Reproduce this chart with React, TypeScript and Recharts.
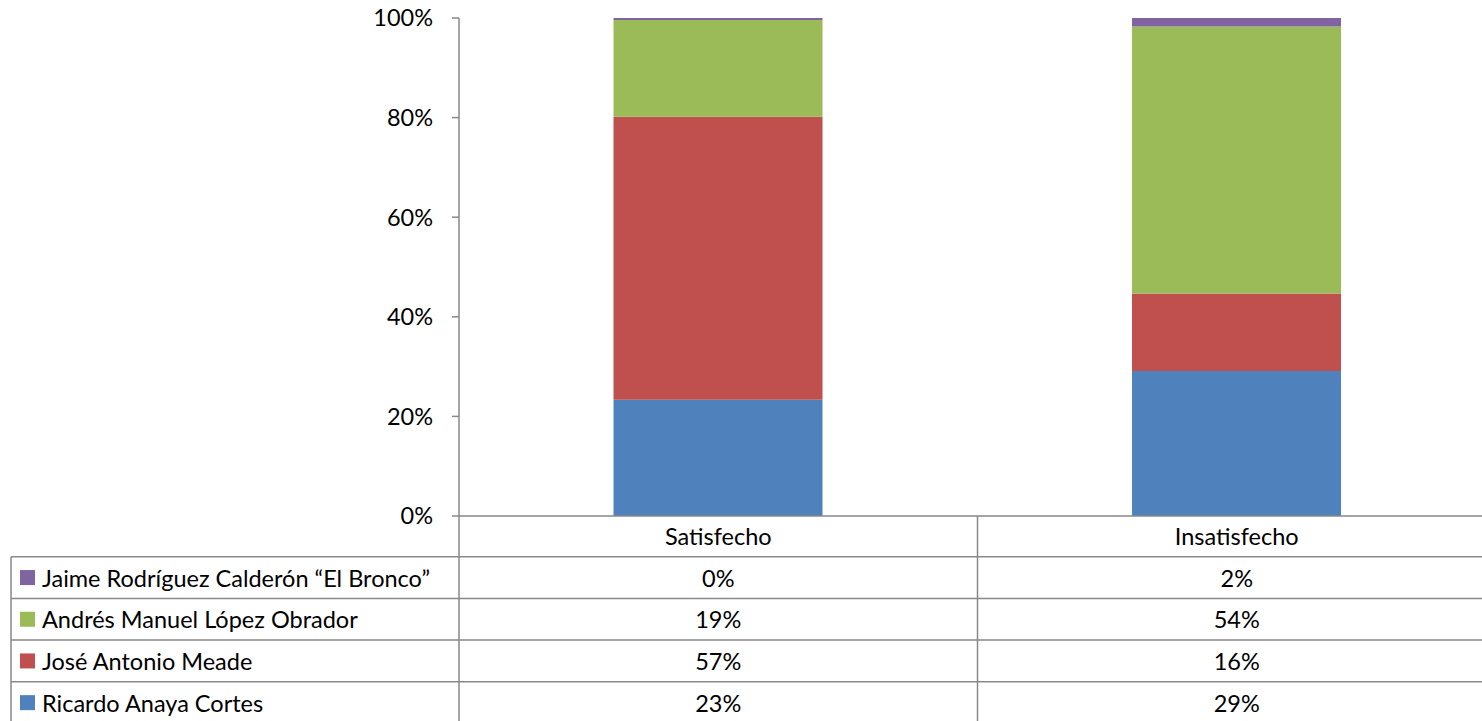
import React from "react";
import { BarChart, Bar, XAxis, YAxis } from "recharts";

const categories = ["Satisfecho", "Insatisfecho"];
const ricardoAnaya = [23.3, 29.1];
const joseMeade = [56.8, 15.6];
const lopezObrador = [19.4, 53.6];
const elBronco = [0.4, 1.7];
const yTicks = [0, 0.2, 0.4, 0.6, 0.8, 1];

const series = [
  { key: "ricardo", name: "Ricardo Anaya Cortes", values: ricardoAnaya, color: "#4F81BD" },
  { key: "meade", name: "José Antonio Meade", values: joseMeade, color: "#C0504D" },
  { key: "amlo", name: "Andrés Manuel López Obrador", values: lopezObrador, color: "#9BBB59" },
  { key: "bronco", name: "Jaime Rodríguez Calderón “El Bronco”", values: elBronco, color: "#8064A2" },
];

const data = categories.map((c, i) => {
  const row: any = { category: c };
  series.forEach((s) => (row[s.key] = s.values[i]));
  return row;
});

const tableRows = [...series].reverse();

const CHART_W = 1500;
const CHART_H = 760;
const MARGIN = { top: 18, right: 4, bottom: 37, left: 0 };
const Y_AXIS_W = 459;
const X_AXIS_H = 207;
const BAND = (CHART_W - MARGIN.left - MARGIN.right - Y_AXIS_W) / categories.length;
const HEADER_H = 40.7;
const ROW_H = 41.7;
const TABLE_LEFT = 11;
const LINE = "#898989";
const FONT = "Lato, 'Open Sans', sans-serif";
const FS = 23.5;

function TableTick(props: any) {
  const { x, y, payload, index } = props;
  const left = x - BAND / 2;
  const right = x + BAND / 2;
  const bottom = y + HEADER_H + tableRows.length * ROW_H;
  const catIdx = categories.indexOf(payload.value);
  return (
    <g>
      <text x={x} y={y + HEADER_H / 2} textAnchor="middle" dominantBaseline="central" fontFamily={FONT} fontSize={FS} fill="#000">
        {payload.value}
      </text>
      <line x1={right} x2={right} y1={y} y2={bottom} stroke={LINE} strokeWidth={1.5} />
      {tableRows.map((s, r) => (
        <g key={s.key}>
          <line x1={left} x2={right} y1={y + HEADER_H + r * ROW_H} y2={y + HEADER_H + r * ROW_H} stroke={LINE} strokeWidth={1.5} />
          <text x={x} y={y + HEADER_H + r * ROW_H + ROW_H / 2} textAnchor="middle" dominantBaseline="central" fontFamily={FONT} fontSize={FS} fill="#000">
            {Math.round(s.values[catIdx]) + "%"}
          </text>
        </g>
      ))}
      <line x1={left} x2={right} y1={bottom} y2={bottom} stroke={LINE} strokeWidth={1.5} />
      {index === 0 && (
        <g>
          <line x1={left} x2={left} y1={y} y2={bottom} stroke={LINE} strokeWidth={1.5} />
          <line x1={TABLE_LEFT} x2={TABLE_LEFT} y1={y + HEADER_H} y2={bottom} stroke={LINE} strokeWidth={1.5} />
          {tableRows.map((s, r) => {
            const top = y + HEADER_H + r * ROW_H;
            return (
              <g key={s.key}>
                <line x1={TABLE_LEFT} x2={left} y1={top} y2={top} stroke={LINE} strokeWidth={1.5} />
                <rect x={20} y={top + ROW_H / 2 - 7.5} width={15} height={15} fill={s.color} />
                <text x={42} y={top + ROW_H / 2} dominantBaseline="central" fontFamily={FONT} fontSize={FS} fill="#000">
                  {s.name}
                </text>
              </g>
            );
          })}
          <line x1={TABLE_LEFT} x2={left} y1={bottom} y2={bottom} stroke={LINE} strokeWidth={1.5} />
        </g>
      )}
    </g>
  );
}

export default function App() {
  return (
    <div style={{ position: "absolute", left: 0, top: 0, width: 1482, height: 721, overflow: "hidden", background: "#fff" }}>
      <BarChart
        width={CHART_W}
        height={CHART_H}
        data={data}
        margin={MARGIN}
        stackOffset="expand"
        barCategoryGap="29.8%"
      >
        <XAxis
          dataKey="category"
          height={X_AXIS_H}
          axisLine={{ stroke: LINE, strokeWidth: 1.5 }}
          tickLine={false}
          tickSize={0}
          tickMargin={0}
          interval={0}
          tick={<TableTick />}
        />
        <YAxis
          width={Y_AXIS_W}
          domain={[0, 1]}
          ticks={yTicks}
          tickFormatter={(v: number) => Math.round(v * 100) + "%"}
          tick={{ fill: "#000", fontSize: FS, fontFamily: FONT }}
          axisLine={{ stroke: LINE, strokeWidth: 1.5 }}
          tickLine={{ stroke: LINE, strokeWidth: 1.5 }}
          tickSize={7}
          tickMargin={19}
        />
        {series.map((s) => (
          <Bar key={s.key} dataKey={s.key} name={s.name} stackId="a" fill={s.color} isAnimationActive={false} />
        ))}
      </BarChart>
    </div>
  );
}
